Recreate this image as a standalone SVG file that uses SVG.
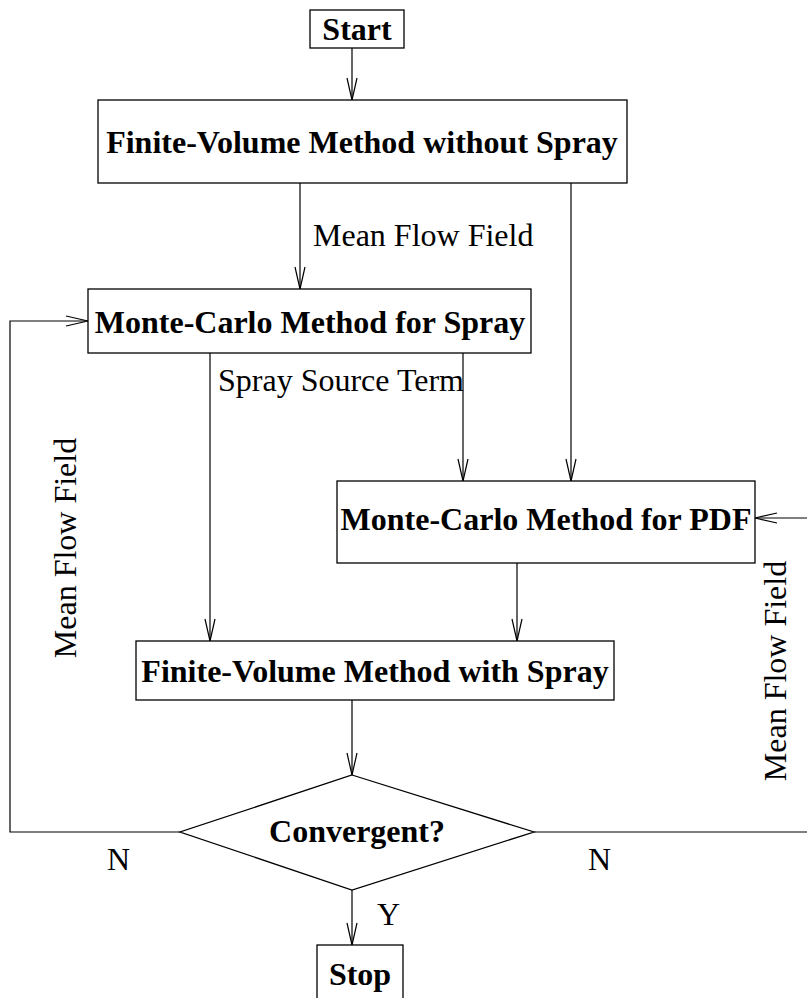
<svg xmlns="http://www.w3.org/2000/svg" width="807" height="998" viewBox="0 0 807 998">
  <defs>
    <marker id="arrow" markerUnits="userSpaceOnUse" markerWidth="30" markerHeight="16" viewBox="-24 -8 26 16" refX="0" refY="0" orient="auto" overflow="visible">
      <path d="M-22,-5 L0,0 L-22,5" fill="none" stroke="#000" stroke-width="1.2"/>
    </marker>
    <style>
      .box { fill: #fff; stroke: #000; stroke-width: 1.3; }
      .edge { fill: none; stroke: #000; stroke-width: 1.2; }
      .title { font-family: "Liberation Serif", "Times New Roman", serif; font-weight: bold; font-size: 32px; fill: #000; text-anchor: middle; }
      .label { font-family: "Liberation Serif", "Times New Roman", serif; font-size: 32px; fill: #000; }
    </style>
  </defs>

  <rect width="807" height="998" fill="#fff"/>

  <!-- connectors -->
  <g id="connectors">
    <line class="edge" x1="352" y1="48" x2="352" y2="100" marker-end="url(#arrow)"/>
    <line class="edge" x1="300" y1="183" x2="300" y2="289" marker-end="url(#arrow)"/>
    <line class="edge" x1="571" y1="183" x2="571" y2="481" marker-end="url(#arrow)"/>
    <line class="edge" x1="210" y1="353" x2="210" y2="641" marker-end="url(#arrow)"/>
    <line class="edge" x1="463" y1="353" x2="463" y2="481" marker-end="url(#arrow)"/>
    <line class="edge" x1="517" y1="563" x2="517" y2="641" marker-end="url(#arrow)"/>
    <line class="edge" x1="352" y1="700" x2="352" y2="775" marker-end="url(#arrow)"/>
    <line class="edge" x1="352" y1="890" x2="352" y2="945" marker-end="url(#arrow)"/>
    <polyline class="edge" points="180,832 10,832 10,321 88,321" marker-end="url(#arrow)"/>
    <line class="edge" x1="534" y1="832" x2="807" y2="832"/>
    <line class="edge" x1="807" y1="518" x2="755" y2="518" marker-end="url(#arrow)"/>

    <text class="label" x="313" y="246">Mean Flow Field</text>
    <text class="label" x="218" y="391">Spray Source Term</text>
    <text class="label" text-anchor="middle" transform="translate(76,548) rotate(-90)">Mean Flow Field</text>
    <text class="label" text-anchor="middle" transform="translate(786,671) rotate(-90)">Mean Flow Field</text>
    <text class="label" x="107" y="870">N</text>
    <text class="label" x="588" y="870">N</text>
    <text class="label" x="377" y="925">Y</text>
  </g>

  <g id="start">
    <rect class="box" x="310" y="10" width="94" height="38"/>
    <text class="title" x="357" y="40">Start</text>
  </g>

  <g id="fv-without-spray">
    <rect class="box" x="98" y="100" width="529" height="83"/>
    <text class="title" x="362" y="153">Finite-Volume Method without Spray</text>
  </g>

  <g id="mc-spray">
    <rect class="box" x="88" y="289" width="443" height="64"/>
    <text class="title" x="310" y="333">Monte-Carlo Method for Spray</text>
  </g>

  <g id="mc-pdf">
    <rect class="box" x="337" y="481" width="418" height="82"/>
    <text class="title" x="546" y="530">Monte-Carlo Method for PDF</text>
  </g>

  <g id="fv-with-spray">
    <rect class="box" x="136" y="641" width="478" height="59"/>
    <text class="title" x="375" y="682">Finite-Volume Method with Spray</text>
  </g>

  <g id="convergent">
    <polygon class="box" points="352,775 534,832 352,890 180,832"/>
    <text class="title" x="357" y="842">Convergent?</text>
  </g>

  <g id="stop">
    <rect class="box" x="317" y="945" width="86" height="70"/>
    <text class="title" x="360" y="985">Stop</text>
  </g>
</svg>
